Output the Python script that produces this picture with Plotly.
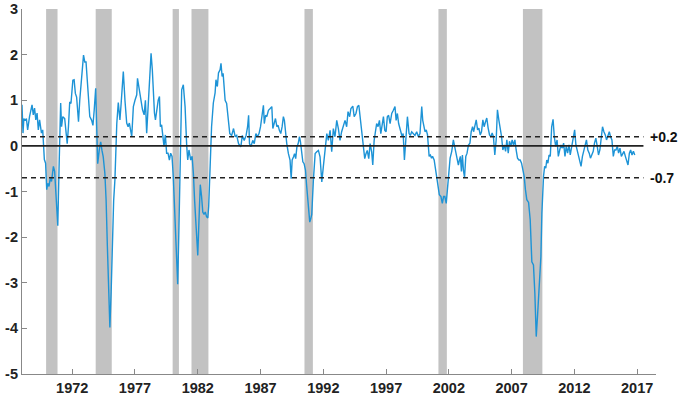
import plotly.graph_objects as go

# CFNAI-MA3 style index, readings (decimal year, value)
years = [
1968.0,1968.08,1968.15,1968.25,1968.35,1968.45,1968.6,1968.8,1968.9,1969.0,1969.1,1969.2,1969.3,1969.4,1969.55,1969.65,1969.78,1969.88,1969.97,
1970.05,1970.15,1970.25,1970.35,1970.5,1970.6,1970.75,1970.85,1970.95,1971.08,1971.15,1971.25,1971.4,1971.5,1971.6,1971.7,1971.8,1971.9,
1972.05,1972.15,1972.25,1972.35,1972.5,1972.6,1972.75,1972.9,1973.0,1973.1,1973.2,1973.3,1973.4,1973.55,1973.65,1973.75,1973.87,1973.95,
1974.03,1974.15,1974.27,1974.37,1974.47,1974.6,1974.7,1974.8,1974.9,1975.0,1975.1,1975.2,1975.3,1975.4,1975.55,1975.67,1975.8,1975.9,
1976.07,1976.2,1976.34,1976.45,1976.55,1976.74,1976.87,1977.0,1977.14,1977.2,1977.33,1977.45,1977.6,1977.73,1977.83,1977.93,
1978.05,1978.2,1978.28,1978.38,1978.47,1978.55,1978.63,1978.74,1978.85,1978.95,1979.02,1979.12,1979.2,1979.31,1979.42,1979.52,1979.63,1979.74,1979.84,1979.95,
1980.05,1980.15,1980.25,1980.4,1980.5,1980.59,1980.72,1980.85,1980.99,1981.12,1981.2,1981.3,1981.44,1981.55,1981.65,1981.75,1981.88,
1982.0,1982.1,1982.2,1982.3,1982.4,1982.5,1982.6,1982.7,1982.8,1982.87,1982.98,1983.1,1983.24,1983.38,1983.45,1983.56,1983.65,1983.78,1983.85,1983.94,
1984.02,1984.18,1984.3,1984.45,1984.55,1984.7,1984.85,1984.98,1985.1,1985.25,1985.43,1985.55,1985.7,1985.85,1985.97,
1986.05,1986.12,1986.23,1986.38,1986.5,1986.63,1986.75,1986.88,1987.0,1987.12,1987.23,1987.3,1987.4,1987.5,1987.63,1987.77,1987.9,1987.98,
1988.08,1988.19,1988.3,1988.4,1988.5,1988.61,1988.72,1988.82,1988.9,1989.0,1989.09,1989.22,1989.35,1989.44,1989.52,1989.63,1989.71,1989.8,1989.9,
1990.0,1990.1,1990.18,1990.26,1990.37,1990.47,1990.58,1990.66,1990.75,1990.85,1990.92,1991.0,1991.08,1991.21,1991.35,1991.48,1991.61,1991.74,1991.88,
1992.0,1992.14,1992.28,1992.4,1992.54,1992.67,1992.8,1992.93,1993.07,1993.2,1993.33,1993.46,1993.6,1993.73,1993.86,1993.97,
1994.1,1994.2,1994.35,1994.46,1994.6,1994.72,1994.83,1994.95,1995.07,1995.2,1995.3,1995.4,1995.5,1995.62,1995.73,1995.85,1995.94,
1996.05,1996.15,1996.25,1996.36,1996.47,1996.58,1996.68,1996.79,1996.9,1997.0,1997.1,1997.2,1997.32,1997.45,1997.58,1997.71,1997.8,1997.9,
1998.0,1998.14,1998.28,1998.36,1998.46,1998.57,1998.7,1998.83,1998.93,1999.04,1999.17,1999.3,1999.44,1999.57,1999.7,1999.84,1999.92,
2000.02,2000.1,2000.2,2000.3,2000.43,2000.53,2000.62,2000.7,2000.83,2000.97,2001.1,2001.24,2001.37,2001.48,2001.58,2001.68,2001.79,2001.9,2001.99,
2002.1,2002.23,2002.36,2002.46,2002.57,2002.68,2002.76,2002.84,2002.92,2003.0,2003.08,2003.16,2003.25,2003.35,2003.45,2003.56,2003.68,2003.78,2003.89,2003.97,
2004.08,2004.18,2004.29,2004.39,2004.5,2004.6,2004.71,2004.81,2004.92,2005.02,2005.13,2005.24,2005.35,2005.45,2005.55,2005.66,2005.77,2005.87,2005.98,
2006.09,2006.2,2006.3,2006.41,2006.52,2006.62,2006.73,2006.83,2006.94,2007.04,2007.15,2007.26,2007.36,2007.47,2007.58,2007.68,2007.79,2007.9,
2008.0,2008.1,2008.21,2008.35,2008.48,2008.61,2008.74,2008.85,2008.96,2009.06,2009.17,2009.27,2009.33,2009.41,2009.47,2009.54,2009.63,2009.72,2009.8,2009.89,2009.98,
2010.08,2010.19,2010.3,2010.4,2010.51,2010.62,2010.72,2010.83,2010.93,2011.04,2011.14,2011.25,2011.35,2011.46,2011.57,2011.67,2011.78,2011.9,
2012.02,2012.12,2012.23,2012.34,2012.45,2012.53,2012.64,2012.75,2012.86,2012.96,2013.07,2013.18,2013.28,2013.39,2013.5,2013.6,2013.71,2013.82,2013.92,
2014.03,2014.14,2014.24,2014.35,2014.46,2014.56,2014.67,2014.78,2014.88,2014.99,2015.1,2015.2,2015.31,2015.42,2015.52,2015.63,2015.74,2015.85,2015.95,
2016.06,2016.16,2016.27,2016.38,2016.48,2016.59,2016.7,2016.81]

values = [
0.9,0.28,0.6,0.55,0.6,0.35,0.64,0.9,0.68,0.83,0.57,0.72,0.35,0.57,0.28,0.35,-0.3,-0.38,-0.96,
-0.82,-0.89,-0.71,-0.78,-0.45,-0.56,-1.4,-1.75,-0.5,0.94,0.42,0.64,0.6,0.31,0.05,0.42,0.96,0.93,
1.44,1.45,1.15,1.07,0.53,1.0,1.48,1.99,1.84,1.84,1.44,1.0,0.64,0.56,0.45,0.78,1.26,0.42,
-0.39,-0.1,0.09,-0.1,-0.24,-0.6,-1.19,-2.2,-3.3,-3.98,-3.2,-2.0,-1.2,-0.75,0.49,0.95,0.57,0.94,
1.63,1.0,0.5,0.42,0.5,0.2,0.86,1.0,1.12,1.48,1.23,1.0,0.79,0.68,1.0,0.28,
0.94,1.67,2.03,1.67,1.08,0.72,0.57,0.86,1.0,1.08,0.42,0.46,0.28,-0.01,0.24,-0.16,-0.16,-0.31,-0.16,-0.23,
-0.67,-1.3,-2.2,-3.03,-1.8,-0.16,1.23,1.34,0.86,0.0,-0.31,-0.09,-0.31,-0.23,-0.6,-1.2,-1.9,
-2.4,-1.6,-0.85,-1.1,-1.45,-1.5,-1.45,-1.55,-1.58,-1.33,-0.53,0.42,0.94,1.16,1.45,1.3,1.6,1.67,1.81,1.52,
1.59,1.0,0.93,0.42,0.27,0.23,0.38,0.2,0.23,0.05,-0.02,0.23,0.12,0.23,0.42,
0.67,0.05,-0.02,0.12,0.05,0.27,0.2,0.27,0.42,0.71,0.89,0.49,0.67,0.64,0.78,0.82,0.86,0.38,
0.49,0.6,0.42,0.45,0.34,0.27,0.42,0.64,0.56,0.27,0.05,-0.17,-0.31,-0.72,-0.31,-0.24,-0.17,-0.28,-0.02,
0.05,0.2,0.09,-0.17,-0.35,-0.39,-0.53,-0.83,-1.2,-1.6,-1.67,-1.6,-1.5,-0.75,-0.17,-0.13,-0.1,-0.24,-0.79,
-0.46,-0.02,0.27,0.12,0.34,-0.13,0.38,0.2,0.56,0.38,0.12,0.31,0.45,0.56,0.42,0.75,
0.64,0.82,0.87,0.64,0.71,0.86,0.89,0.6,0.27,-0.02,-0.28,-0.17,-0.1,-0.28,0.05,-0.13,-0.42,
0.12,0.27,0.49,0.42,0.56,0.27,0.49,0.64,0.34,0.31,0.64,0.67,0.49,0.71,0.78,0.86,0.56,0.71,
0.49,0.34,0.2,0.27,-0.31,0.12,0.64,0.27,0.23,0.31,0.27,0.23,0.31,0.2,0.27,0.86,0.56,
0.42,0.31,0.35,0.24,-0.23,-0.2,-0.27,-0.23,-0.31,-0.6,-0.89,-1.07,-1.11,-1.26,-1.11,-1.11,-1.26,-0.89,-0.53,
-0.27,-0.12,0.13,-0.01,-0.16,-0.31,-0.42,-0.31,-0.23,-0.56,-0.2,-0.53,-0.69,-0.23,-0.16,0.02,0.06,0.31,0.42,0.31,
0.42,0.57,0.35,0.39,0.24,0.31,0.57,0.42,0.53,0.61,0.39,0.24,0.2,0.28,0.2,-0.2,0.13,0.79,0.57,
0.42,0.2,-0.09,0.02,-0.12,0.13,-0.16,0.1,-0.01,0.13,0.02,0.13,-0.09,-0.27,-0.31,-0.31,-0.38,-0.53,
-0.67,-0.96,-1.18,-1.24,-1.62,-2.54,-2.61,-3.23,-4.18,-3.74,-3.16,-2.87,-2.43,-1.48,-0.96,-0.67,-0.45,-0.49,-0.31,-0.38,-0.2,
-0.23,0.42,0.58,0.2,-0.01,0.13,-0.23,-0.09,0.02,-0.05,0.06,-0.23,-0.01,-0.16,0.02,-0.2,-0.01,0.13,
0.35,0.02,-0.09,-0.23,-0.31,-0.45,-0.23,-0.09,0.06,0.13,-0.09,-0.16,-0.27,-0.2,-0.12,0.06,0.17,-0.01,-0.2,
-0.09,0.13,0.42,0.31,0.24,0.13,0.2,0.31,0.2,0.13,-0.23,-0.09,-0.09,-0.01,-0.16,-0.05,-0.23,-0.16,-0.12,
-0.23,-0.31,-0.42,-0.16,-0.09,-0.2,-0.12,-0.2]

recession_starts = [1969.92, 1973.87, 1980.0, 1981.5, 1990.5, 2001.17, 2007.9]
recession_ends = [1970.83, 1975.15, 1980.5, 1982.85, 1991.17, 2001.84, 2009.45]

threshold_values = [0.2, -0.7]
threshold_labels = ["+0.2", "-0.7"]
x_tick_years = [1972, 1977, 1982, 1987, 1992, 1997, 2002, 2007, 2012, 2017]
y_ticks = [3, 2, 1, 0, -1, -2, -3, -4, -5]

fig = go.Figure()
fig.add_trace(go.Scatter(x=years, y=values, mode="lines",
                         line=dict(color="#1d93d6", width=1.4), showlegend=False,
                         hoverinfo="skip"))

shapes = []
for s, e in zip(recession_starts, recession_ends):
    shapes.append(dict(type="rect", xref="x", yref="y", x0=s, x1=e, y0=-5, y1=3,
                       fillcolor="#c2c2c2", line=dict(width=0), layer="below"))
shapes.append(dict(type="line", xref="x", yref="y", x0=1968, x1=2017.5, y0=0, y1=0,
                   line=dict(color="#222222", width=1.6)))
annotations = []
for tv, tl in zip(threshold_values, threshold_labels):
    shapes.append(dict(type="line", xref="x", yref="y", x0=1968, x1=2017.5, y0=tv, y1=tv,
                       line=dict(color="#222222", width=1.5, dash="5px,4px")))
    annotations.append(dict(x=2017.9, y=tv, xref="x", yref="y", text=tl, showarrow=False,
                            xanchor="left", yanchor="middle",
                            font=dict(family="Liberation Sans", size=14, color="#111111", weight="bold")))

tickfont = dict(family="Liberation Sans", size=14.5, color="#222222", weight="bold")
fig.update_layout(
    width=680, height=396,
    margin=dict(l=22, r=24, t=9, b=22),
    paper_bgcolor="white", plot_bgcolor="white",
    shapes=shapes, annotations=annotations,
    xaxis=dict(range=[1968, 2018.5], tickvals=x_tick_years, ticktext=[str(y) for y in x_tick_years],
               ticks="inside", ticklen=5, tickcolor="#888888", showline=True, linecolor="#888888",
               linewidth=1.2, showgrid=False, zeroline=False, tickfont=tickfont,
               ticklabelstandoff=0, automargin=False),
    yaxis=dict(range=[-5, 3], tickvals=y_ticks, ticktext=[str(v) for v in y_ticks],
               ticks="inside", ticklen=5, tickcolor="#888888", showline=True, linecolor="#888888",
               linewidth=1.2, showgrid=False, zeroline=False, tickfont=tickfont,
               automargin=False, ticklabelstandoff=0),
)
fig.write_html("out.html")
